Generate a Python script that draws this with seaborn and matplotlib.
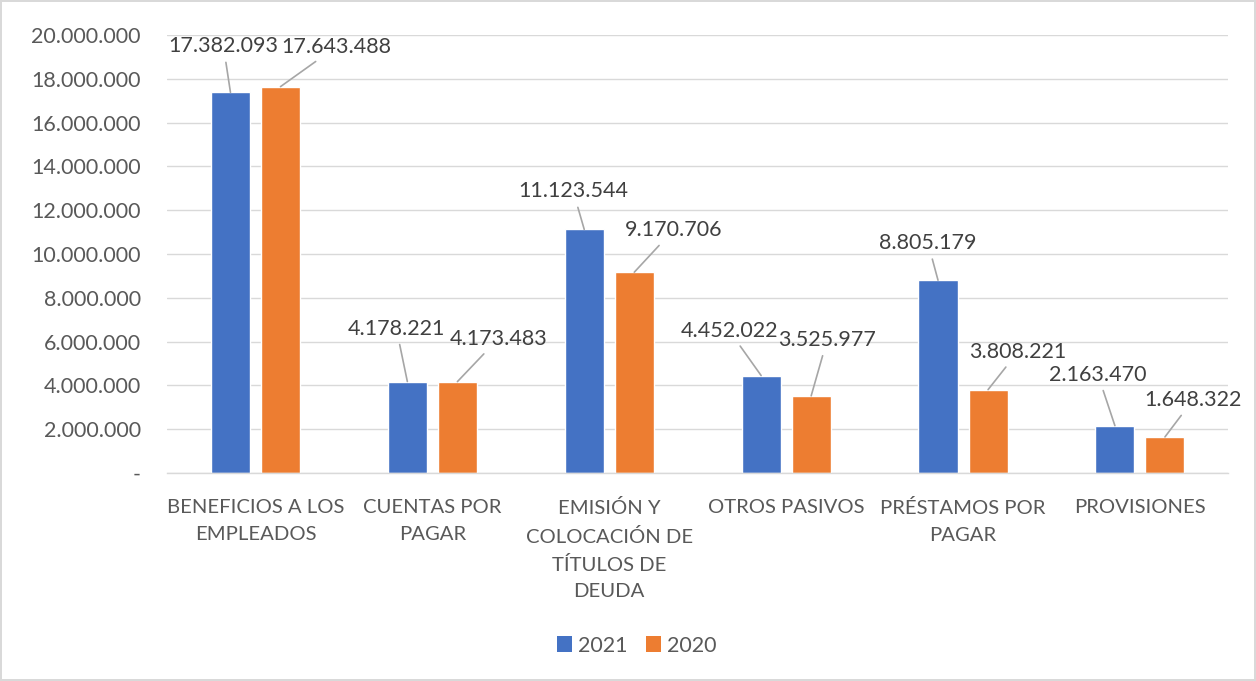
import matplotlib
matplotlib.use("Agg")
import matplotlib.pyplot as plt
import seaborn as sns
import pandas as pd
from matplotlib.ticker import FuncFormatter
from matplotlib.patches import Patch

categories = ["BENEFICIOS A LOS\nEMPLEADOS", "CUENTAS POR\nPAGAR",
              "EMISIÓN Y\nCOLOCACIÓN DE\nTÍTULOS DE\nDEUDA", "OTROS PASIVOS",
              "PRÉSTAMOS POR\nPAGAR", "PROVISIONES"]
values_2021 = [17382093, 4178221, 11123544, 4452022, 8805179, 2163470]
values_2020 = [17643488, 4173483, 9170706, 3525977, 3808221, 1648322]
series = ["2021", "2020"]
colors = ["#4472C4", "#ED7D31"]

# label offsets (pixels) relative to bar top
off_2021 = [(-7, 46), (-11, 53), (-11, 38), (-32, 45), (-10, 37), (-17, 51)]
off_2020 = [(56, 40), (41, 43), (39, 42), (16, 56), (30, 38), (28, 37)]

df = pd.DataFrame({
    "cat": categories * 2,
    "serie": [series[0]] * 6 + [series[1]] * 6,
    "val": values_2021 + values_2020,
})

sns.set_theme(style="white")
plt.rcParams["font.family"] = ["Lato", "DejaVu Sans"]
txt = "#595959"
fs_num = 15.5
fs_cat = 14.6

fig = plt.figure(figsize=(12.56, 6.81), dpi=100)
fig.patch.set_edgecolor("#d9d9d9")
fig.patch.set_linewidth(1.5)
ax = fig.add_axes([0.133, 0.3054, 0.845, 0.6432])

sns.barplot(data=df, x="cat", y="val", hue="serie", palette=colors,
            width=0.566, gap=0.22, ax=ax, legend=False, saturation=1)

ax.set_ylim(0, 20000000)
ax.set_yticks(range(0, 20000001, 2000000))
ax.yaxis.set_major_formatter(FuncFormatter(
    lambda v, p: "-" if v == 0 else f"{int(v):,}".replace(",", ".")))
ax.grid(axis="y", color="#d9d9d9", linewidth=1)
ax.set_axisbelow(True)
for s in ["top", "right", "left"]:
    ax.spines[s].set_visible(False)
ax.spines["bottom"].set_color("#d9d9d9")
ax.spines["bottom"].set_linewidth(1)
ax.set_xlabel("")
ax.set_ylabel("")
ax.tick_params(axis="y", length=0, pad=19, labelsize=fs_num, labelcolor=txt)
ax.tick_params(axis="x", length=0, pad=19, labelsize=fs_cat, labelcolor=txt)
for lab in ax.get_xticklabels():
    lab.set_linespacing(1.68)
    lab.set_verticalalignment("top")

# data labels with leader lines
bars = [p for p in ax.patches]
n = len(categories)
for i, (vals, offs) in enumerate([(values_2021, off_2021), (values_2020, off_2020)]):
    for j in range(n):
        p = bars[i * n + j]
        x = p.get_x() + p.get_width() / 2
        y = p.get_height()
        ax.annotate(f"{vals[j]:,}".replace(",", "."), xy=(x, y),
                    xytext=offs[j], textcoords="offset pixels",
                    ha="center", va="center", fontsize=fs_num, color="#404040",
                    arrowprops=dict(arrowstyle="-", color="#a6a6a6", lw=1.2,
                                    shrinkA=2, shrinkB=0))

handles = [Patch(facecolor=c, edgecolor="none") for c in colors]
fig.legend(handles, series, loc="center", bbox_to_anchor=(0.507, 0.052),
           ncol=2, frameon=False, fontsize=fs_num, labelcolor=txt,
           handlelength=0.72, handleheight=0.72, handletextpad=0.28, columnspacing=0.85)

fig.savefig("out.png", dpi=100)
